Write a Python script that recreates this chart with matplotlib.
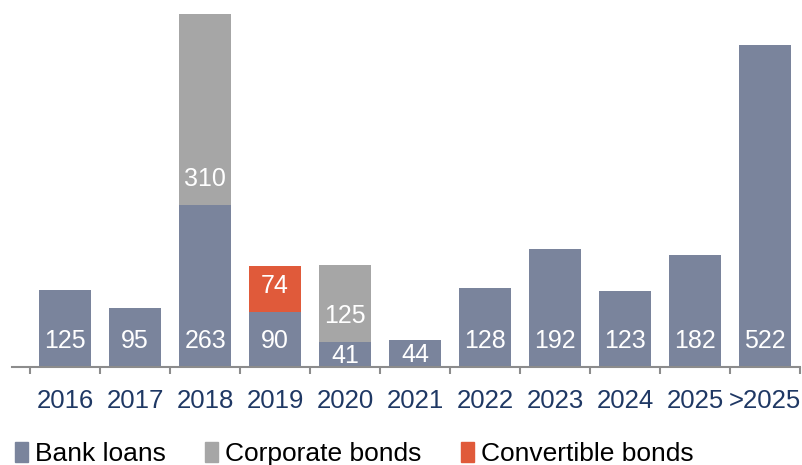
import matplotlib.pyplot as plt
from matplotlib.patches import Patch

plt.rcParams["font.family"] = ["Liberation Sans", "DejaVu Sans"]

years = ["2016", "2017", "2018", "2019", "2020", "2021", "2022", "2023", "2024", "2025", ">2025"]
bank_loans = [125, 95, 263, 90, 41, 44, 128, 192, 123, 182, 522]
corporate_bonds = [0, 0, 310, 0, 125, 0, 0, 0, 0, 0, 0]
convertible_bonds = [0, 0, 0, 74, 0, 0, 0, 0, 0, 0, 0]

BANK, CORP, CONV = "#7a849c", "#a6a6a6", "#e05a3a"
NAVY, AXIS = "#1f3864", "#8c8c8c"

fig = plt.figure(figsize=(8.02, 4.65), dpi=100)
ax = fig.add_axes([12 / 802, 98 / 465, 788 / 802, 357.3 / 465])

x = list(range(len(years)))
w = 0.75
series = [(bank_loans, BANK, "Bank loans"),
          (corporate_bonds, CORP, "Corporate bonds"),
          (convertible_bonds, CONV, "Convertible bonds")]
bottom = [0] * len(years)
for vals, col, lab in series:
    ax.bar(x, vals, bottom=bottom, width=w, color=col, linewidth=0)
    for i, v in enumerate(vals):
        if v <= 0:
            continue
        off = 42 if v >= 60 else v / 2 - 2
        ax.text(i, bottom[i] + off, str(v), ha="center", va="center",
                fontsize=18, color="white")
    bottom = [b + v for b, v in zip(bottom, vals)]

ax.set_xlim(-0.76, 10.5)
ax.set_ylim(0, 580)
ax.set_yticks([])
for s in ("top", "right", "left"):
    ax.spines[s].set_visible(False)
ax.spines["bottom"].set_color(AXIS)
ax.spines["bottom"].set_linewidth(1.5)

ax.set_xticks([i + 0.5 for i in range(-1, len(years))])
ax.set_xticklabels([])
ax.tick_params(axis="x", which="major", length=5, width=1.5, color=AXIS)
ax.set_xticks(x, minor=True)
ax.set_xticklabels(years, minor=True, fontsize=18.5, color=NAVY)
ax.tick_params(axis="x", which="minor", length=0, pad=15.5)

handles = [Patch(color=c, label=l) for _, c, l in series]
fig.legend(handles=handles, loc="lower left", bbox_to_anchor=(15 / 802, -1 / 465),
           ncol=3, frameon=False, fontsize=19, handlelength=0.5, handleheight=0.8,
           handletextpad=0.25, columnspacing=1.5, borderpad=0, borderaxespad=0)

fig.savefig("out.png", dpi=100, facecolor="white")
